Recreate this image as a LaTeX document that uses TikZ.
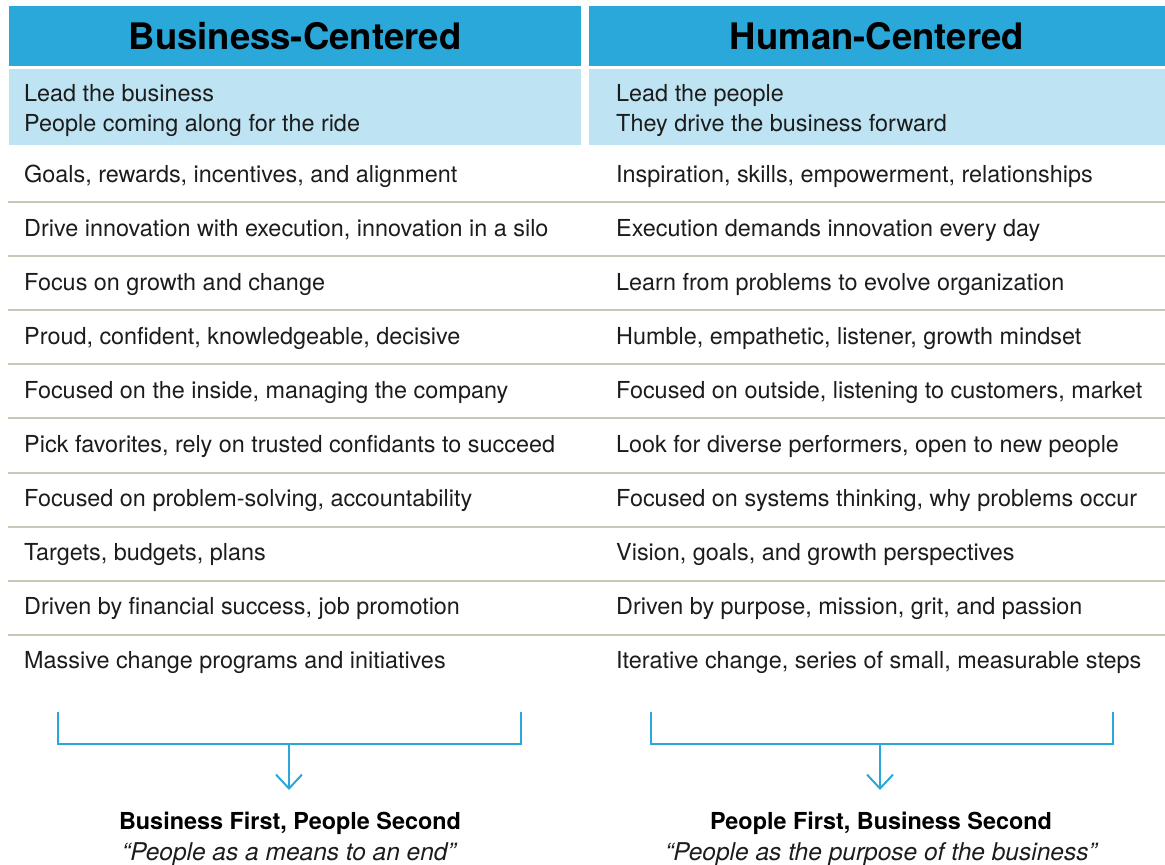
\documentclass[tikz,border=0pt]{standalone}
\usepackage{fontspec}
\setmainfont{TeX Gyre Heros}
\usepackage{tikz}
\usetikzlibrary{arrows.meta}

\definecolor{hdrblue}{HTML}{2BA8DA}
\definecolor{bandblue}{HTML}{BEE3F3}
\definecolor{rulegray}{HTML}{C8C8B6}
\definecolor{bodytxt}{HTML}{1C1C1C}

\begin{document}
\begin{tikzpicture}[x=1pt,y=-1pt,
  txt/.style={anchor=base west,inner sep=0pt,text=bodytxt,font=\fontsize{23.4}{28}\selectfont},
  hdr/.style={anchor=base,inner sep=0pt,font=\fontsize{36.5}{40}\selectfont\bfseries},
  verdict/.style={anchor=base,inner sep=0pt,font=\fontsize{23.4}{28}\selectfont\bfseries},
  quote/.style={anchor=base,inner sep=0pt,text=bodytxt,font=\fontsize{24.5}{28}\selectfont\itshape},
  rowrule/.style={draw=rulegray,line width=2pt},
  brace/.style={draw=hdrblue,line width=2pt},
  down/.style={brace,-{Straight Barb[length=14pt,width=26pt]}}]

    \useasboundingbox (0,0) rectangle (1165,865);

    % title bars
    \fill[hdrblue] (9,6) rectangle (581,66);
    \fill[hdrblue] (589,6) rectangle (1165,66);
    \fill[bandblue] (9,69) rectangle (581,145);
    \fill[bandblue] (589,69) rectangle (1165,145);

    \node[hdr] (bc) at (295,49) {Business-Centered};
    \node[hdr] (hc) at (877,49) {Human-Centered};

    \node[txt] (bc0a) at (24,101) {Lead the business};
    \node[txt] (bc0b) at (24,131) {People coming along for the ride};
    \node[txt] (hc0a) at (616,101) {Lead the people};
    \node[txt] (hc0b) at (616,131) {They drive the business forward};

    % row lines
    \foreach \k in {0,...,8}
        \draw[rowrule] (8,{202+54.1*\k}) -- (1165,{202+54.1*\k});

    % rows
    \foreach \i/\l/\r in {
        1/{Goals, rewards, incentives, and alignment}/{Inspiration, skills, empowerment, relationships},
        2/{Drive innovation with execution, innovation in a silo}/{Execution demands innovation every day},
        3/{Focus on growth and change}/{Learn from problems to evolve organization},
        4/{Proud, confident, knowledgeable, decisive}/{Humble, empathetic, listener, growth mindset},
        5/{Focused on the inside, managing the company}/{Focused on outside, listening to customers, market},
        6/{Pick favorites, rely on trusted confidants to succeed}/{Look for diverse performers, open to new people},
        7/{Focused on problem-solving, accountability}/{Focused on systems thinking, why problems occur},
        8/{Targets, budgets, plans}/{Vision, goals, and growth perspectives},
        9/{Driven by financial success, job promotion}/{Driven by purpose, mission, grit, and passion},
        10/{Massive change programs and initiatives}/{Iterative change, series of small, measurable steps}}
    {
        \node[txt] (bc\i) at (24,{182+54.1*(\i-1)}) {\l};
        \node[txt] (hc\i) at (616,{182+54.1*(\i-1)}) {\r};
    }

    % brackets and arrows
    \draw[brace] (58,712) -- (58,744) -- (521,744) -- (521,712);
    \draw[brace] (651,712) -- (651,744) -- (1113,744) -- (1113,712);
    \coordinate (bmid) at (289,744);
    \coordinate (btip) at (289,790);
    \coordinate (hmid) at (880,744);
    \coordinate (htip) at (880,790);
    \draw[down] (bmid) -- (btip);
    \draw[down] (hmid) -- (htip);

    \node[verdict] (bfirst) at (290,829) {Business First, People Second};
    \node[quote] (bquote) at (289,860) {“People as a means to an end”};
    \node[verdict] (hfirst) at (881,829) {People First, Business Second};
    \node[quote] (hquote) at (881,860) {“People as the purpose of the business”};

\end{tikzpicture}
\end{document}
